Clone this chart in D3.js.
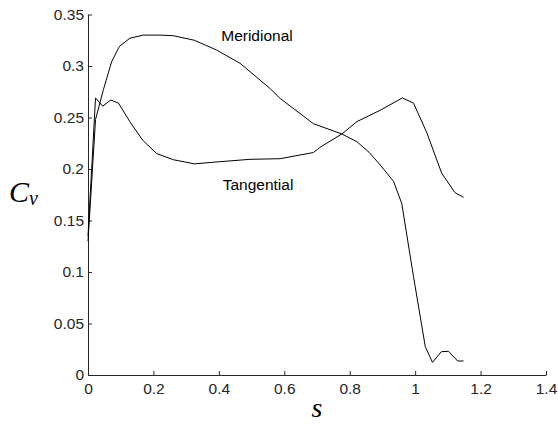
<!DOCTYPE html>
<html>
<head>
<meta charset="utf-8">
<script src="https://cdn.jsdelivr.net/npm/d3@7"></script>
<style>
  body { margin: 0; background: #fff; }
  svg { display: block; }
</style>
</head>
<body>
<svg id="chart" width="558" height="426"></svg>
<script>
// data
var sMer  = [0, 0.023, 0.047, 0.072, 0.096, 0.128, 0.169, 0.22, 0.261, 0.325, 0.393, 0.465, 0.557, 0.587, 0.689, 0.776, 0.822, 0.86, 0.893, 0.934, 0.959, 0.995, 1.031, 1.053, 1.080, 1.102, 1.130, 1.148];
var cvMer = [0.13, 0.248, 0.277, 0.304, 0.319, 0.327, 0.330, 0.330, 0.3294, 0.325, 0.3155, 0.3026, 0.278, 0.2686, 0.244, 0.234, 0.2265, 0.216, 0.204, 0.188, 0.1667, 0.0955, 0.0275, 0.0123, 0.0226, 0.023, 0.0136, 0.0136];

var sTan  = [0, 0.023, 0.045, 0.070, 0.093, 0.13, 0.167, 0.21, 0.261, 0.325, 0.40, 0.495, 0.587, 0.648, 0.689, 0.709, 0.776, 0.822, 0.893, 0.961, 0.995, 1.036, 1.081, 1.122, 1.148];
var cvTan = [0.135, 0.269, 0.261, 0.267, 0.264, 0.245, 0.228, 0.215, 0.209, 0.205, 0.207, 0.2094, 0.210, 0.2136, 0.216, 0.221, 0.234, 0.246, 0.257, 0.269, 0.264, 0.235, 0.196, 0.177, 0.1725];

var xTicks = [0, 0.2, 0.4, 0.6, 0.8, 1, 1.2, 1.4];
var yTicks = [0, 0.05, 0.1, 0.15, 0.2, 0.25, 0.3, 0.35];

var svg = d3.select("#chart");
// plot box (window.top is reserved, so use other names)
var padL = 88, padR = 546, padT = 14.5, padB = 375;

var x = d3.scaleLinear().domain([0, 1.4]).range([padL, padR]);
var y = d3.scaleLinear().domain([0, 0.35]).range([padB, padT]);

var fmt = function(d) { return String(+d.toFixed(2)); };

// axes (box off, ticks pointing inward)
var gx = svg.append("g")
	.attr("transform", "translate(0," + padB + ")")
	.call(d3.axisBottom(x).tickValues(xTicks).tickFormat(fmt)
		.tickSizeInner(-4).tickSizeOuter(0).tickPadding(8));
var gy = svg.append("g")
	.attr("transform", "translate(" + padL + ",0)")
	.call(d3.axisLeft(y).tickValues(yTicks).tickFormat(fmt)
		.tickSizeInner(-4).tickSizeOuter(0).tickPadding(4));

svg.selectAll(".domain, .tick line").attr("stroke", "#262626");
svg.selectAll(".tick text")
	.style("font-family", "'Liberation Sans', Arial, sans-serif")
	.style("font-size", "15.5px")
	.attr("fill", "#262626");

// lines
var line = d3.line()
	.x(function(d) { return x(d[0]); })
	.y(function(d) { return y(d[1]); });

var merPts = sMer.map(function(s, i) { return [s, cvMer[i]]; });
var tanPts = sTan.map(function(s, i) { return [s, cvTan[i]]; });

svg.append("path").datum(merPts)
	.attr("d", line).attr("fill", "none")
	.attr("stroke", "#000").attr("stroke-width", 1);
svg.append("path").datum(tanPts)
	.attr("d", line).attr("fill", "none")
	.attr("stroke", "#000").attr("stroke-width", 1);

// curve labels
svg.append("text")
	.attr("x", 257).attr("y", 40.5)
	.attr("text-anchor", "middle")
	.style("font-family", "'Liberation Sans', Arial, sans-serif")
	.style("font-size", "15.5px")
	.text("Meridional");
svg.append("text")
	.attr("x", 258).attr("y", 189.5)
	.attr("text-anchor", "middle")
	.style("font-family", "'Liberation Sans', Arial, sans-serif")
	.style("font-size", "15.5px")
	.text("Tangential");

// axis titles
var yl = svg.append("text")
	.attr("x", 9).attr("y", 202)
	.style("font-family", "'Liberation Serif', 'DejaVu Serif', serif")
	.style("font-style", "italic");
yl.append("tspan").style("font-size", "30px").text("C");
yl.append("tspan").style("font-size", "20px").attr("dy", 3).text("v");

svg.append("text")
	.attr("x", x(0.7)).attr("y", 417)
	.attr("text-anchor", "middle")
	.style("font-family", "'Liberation Serif', 'DejaVu Serif', serif")
	.style("font-style", "italic")
	.style("font-size", "28px")
	.text("s");
</script>
</body>
</html>
